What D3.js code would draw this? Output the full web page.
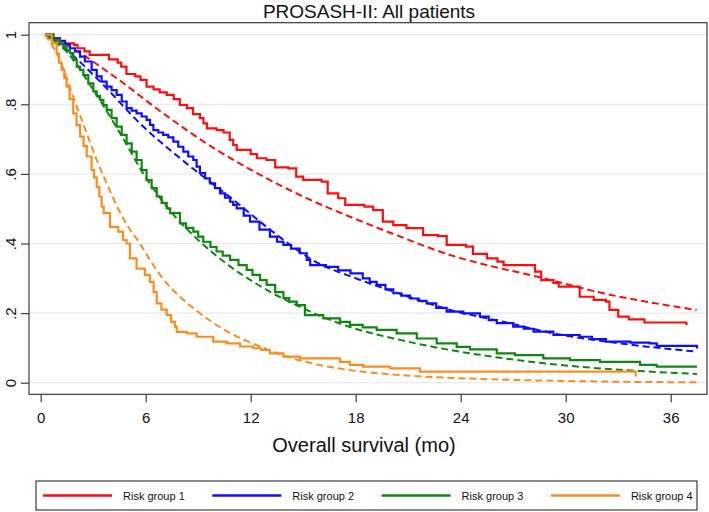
<!DOCTYPE html>
<html><head><meta charset="utf-8">
<script src="https://cdn.jsdelivr.net/npm/d3@7"></script>
<style>body{margin:0;background:#fff} svg{display:block;font-family:Arial,"Liberation Sans",sans-serif}</style>
</head><body><svg id="c" width="709" height="512"></svg>
<script>
const titleText = "PROSASH-II: All patients";
const xAxisTitle = "Overall survival (mo)";
const xTicks = [0, 6, 12, 18, 24, 30, 36];
const yTicks = [0, 0.2, 0.4, 0.6, 0.8, 1];
const yTickLabels = ["0", ".2", ".4", ".6", ".8", "1"];
const groups = ["Risk group 1", "Risk group 2", "Risk group 3", "Risk group 4"];
const colors = ["#ff0d0d", "#0d0dff", "#0f870f", "#fb8c1e"];

// Kaplan-Meier step curves: [time (mo), survival]
const km1 = [[0.25,1],[0.7,0.99],[1.1,0.975],[1.9,0.971],[2.1,0.961],[2.5,0.952],[2.8,0.942],[3.9,0.929],[4.4,0.92],[4.6,0.908],[4.9,0.887],[5.4,0.88],[5.7,0.87],[6.05,0.851],[6.45,0.843],[6.8,0.834],[7.2,0.827],[7.6,0.815],[7.95,0.798],[8.35,0.789],[8.7,0.772],[9.1,0.76],[9.3,0.745],[9.5,0.731],[10.05,0.726],[10.45,0.719],[10.8,0.698],[11.0,0.683],[11.2,0.669],[12.0,0.657],[12.35,0.645],[12.9,0.64],[13.4,0.619],[14.15,0.616],[14.6,0.592],[15.0,0.583],[16.05,0.578],[16.4,0.544],[17.0,0.53],[17.4,0.511],[18.5,0.506],[19.0,0.496],[19.55,0.463],[20.15,0.453],[20.9,0.444],[21.85,0.424],[22.7,0.421],[23.2,0.396],[24.3,0.391],[24.7,0.37],[25.5,0.357],[26.1,0.348],[26.45,0.338],[28.25,0.319],[28.6,0.295],[29.3,0.287],[29.6,0.276],[30.8,0.247],[31.6,0.238],[32.3,0.233],[32.5,0.209],[33.0,0.19],[33.6,0.182],[34.5,0.173],[36.9,0.165]];
const km2 = [[0.25,1],[0.72,0.989],[1.1,0.982],[1.39,0.973],[1.67,0.961],[1.96,0.952],[2.25,0.937],[2.53,0.923],[2.91,0.899],[3.2,0.88],[3.48,0.865],[3.77,0.851],[4.05,0.841],[4.34,0.827],[4.63,0.808],[4.91,0.789],[5.2,0.782],[5.48,0.774],[5.77,0.765],[6.05,0.755],[6.25,0.741],[6.44,0.726],[6.72,0.719],[7.0,0.712],[7.29,0.705],[7.58,0.693],[7.86,0.678],[8.15,0.664],[8.43,0.65],[8.72,0.64],[8.91,0.621],[9.1,0.602],[9.39,0.587],[9.67,0.573],[9.96,0.559],[10.25,0.544],[10.53,0.532],[10.82,0.52],[11.0,0.511],[11.2,0.501],[11.6,0.48],[11.96,0.463],[12.5,0.44],[13.1,0.42],[13.5,0.405],[13.87,0.396],[14.3,0.385],[14.8,0.372],[15.2,0.353],[15.4,0.338],[16.3,0.333],[17.0,0.323],[17.7,0.314],[18.4,0.3],[18.8,0.29],[19.2,0.281],[19.7,0.268],[20.15,0.257],[20.6,0.25],[21.1,0.242],[21.6,0.235],[22.05,0.228],[22.6,0.215],[23.2,0.204],[24.15,0.199],[25.1,0.19],[25.6,0.18],[26.06,0.171],[27.0,0.161],[27.6,0.155],[28.16,0.147],[29.3,0.137],[30.8,0.132],[31.5,0.125],[32.3,0.118],[33.7,0.115],[34.8,0.113],[35.2,0.106],[37.5,0.098]];
const km3 = [[0.25,1],[0.72,0.985],[1.1,0.973],[1.29,0.966],[1.48,0.956],[1.67,0.947],[1.86,0.928],[2.06,0.908],[2.25,0.899],[2.44,0.884],[2.72,0.86],[3.01,0.837],[3.2,0.824],[3.39,0.813],[3.58,0.798],[3.77,0.784],[4.05,0.76],[4.34,0.736],[4.63,0.712],[4.91,0.688],[5.2,0.664],[5.48,0.64],[5.77,0.611],[6.05,0.582],[6.34,0.559],[6.63,0.535],[6.91,0.517],[7.2,0.501],[7.4,0.487],[7.96,0.458],[8.3,0.445],[8.72,0.434],[9.0,0.42],[9.29,0.405],[9.7,0.39],[10.05,0.377],[10.4,0.365],[10.82,0.353],[11.3,0.338],[11.77,0.324],[12.1,0.31],[12.53,0.295],[12.91,0.281],[13.4,0.26],[13.87,0.243],[14.2,0.233],[14.63,0.223],[15.1,0.194],[16.15,0.185],[17.1,0.175],[17.67,0.166],[18.4,0.159],[19.2,0.152],[20.34,0.142],[21.49,0.127],[22.63,0.113],[23.77,0.103],[24.53,0.096],[26.06,0.084],[27.1,0.079],[28.72,0.07],[30.25,0.065],[31.96,0.06],[34.25,0.051],[35.2,0.046],[37.5,0.046]];
const km4 = [[0.25,1],[0.63,0.975],[0.91,0.946],[1.05,0.92],[1.2,0.899],[1.35,0.875],[1.48,0.851],[1.65,0.815],[1.86,0.774],[2.05,0.74],[2.25,0.707],[2.45,0.68],[2.63,0.65],[2.91,0.611],[3.05,0.59],[3.2,0.563],[3.35,0.535],[3.48,0.506],[3.6,0.487],[3.96,0.448],[4.43,0.434],[4.7,0.41],[4.91,0.4],[5.1,0.357],[5.48,0.328],[5.95,0.309],[6.24,0.29],[6.45,0.26],[6.63,0.228],[6.9,0.21],[7.2,0.194],[7.45,0.175],[7.67,0.161],[7.77,0.146],[8.34,0.142],[8.91,0.132],[9.86,0.118],[10.63,0.113],[11.39,0.104],[12.15,0.099],[12.6,0.094],[13.1,0.084],[13.87,0.075],[14.82,0.07],[17.1,0.06],[17.67,0.051],[18.43,0.046],[19.96,0.041],[21.67,0.032],[34.0,0.018]];

// Fitted (parametric) curves, dashed: [time (mo), survival]
const fit1 = [[0.25,1],[1.3,0.975],[2.25,0.947],[4.34,0.875],[7,0.774],[10.05,0.669],[12.3,0.604],[14.82,0.539],[17.67,0.477],[20.53,0.42],[23.39,0.367],[25.1,0.343],[28.34,0.305],[32.15,0.257],[37.48,0.209]];
const fit2 = [[0.25,1],[1.5,0.955],[3.2,0.875],[5.86,0.736],[8.53,0.622],[10.9,0.53],[13.1,0.44],[15.8,0.345],[18,0.3],[20.15,0.262],[23.4,0.209],[26.44,0.175],[29.3,0.142],[33.1,0.113],[37.5,0.089]];
const fit3 = [[0.25,1],[1.5,0.95],[3,0.842],[4.5,0.72],[6,0.59],[7.5,0.488],[9,0.41],[10.8,0.335],[12.3,0.285],[15.2,0.209],[17.67,0.16],[20.53,0.123],[23.39,0.094],[25.1,0.08],[29.3,0.053],[34.06,0.034],[37.5,0.025]];
const fit4 = [[0.25,1],[1.0,0.937],[2.06,0.793],[2.63,0.717],[3.2,0.64],[3.77,0.573],[4.43,0.5],[4.91,0.455],[5.67,0.4],[6.24,0.353],[7.0,0.298],[7.96,0.247],[8.91,0.207],[9.86,0.172],[10.82,0.143],[11.77,0.12],[12.53,0.104],[13.9,0.078],[15.8,0.052],[17.7,0.036],[20.5,0.022],[25,0.011],[30,0.005],[37.5,0.001]];

const kmSeries = [km1, km2, km3, km4];
const fitSeries = [fit1, fit2, fit3, fit4];

const svg = d3.select("#c");
const frame = {left: 29, right: 707, top: 22.7, bottom: 394.3};
const x = d3.scaleLinear().domain([0, 36]).range([40.7, 670.7]);
const y = d3.scaleLinear().domain([0, 1]).range([382.7, 34.7]);

svg.append("rect").attr("width", 709).attr("height", 512).attr("fill", "#fff");

// gridlines
svg.append("g").selectAll("line").data(yTicks).join("line")
  .attr("x1", frame.left).attr("x2", frame.right)
  .attr("y1", d => y(d)).attr("y2", d => y(d))
  .attr("stroke", "#e4ecef").attr("stroke-width", 1.2);

// clip
svg.append("defs").append("clipPath").attr("id", "clip").append("rect")
  .attr("x", frame.left).attr("y", frame.top)
  .attr("width", frame.right - frame.left).attr("height", frame.bottom - frame.top);

const plot = svg.append("g").attr("clip-path", "url(#clip)");
const stepLine = d3.line().x(d => x(d[0])).y(d => y(d[1])).curve(d3.curveStepAfter);
const smoothLine = d3.line().x(d => x(d[0])).y(d => y(d[1])).curve(d3.curveMonotoneX);

// draw order: group 4 first so group 1 on top? keep natural order
fitSeries.forEach((s, i) => {
  plot.append("path").attr("d", smoothLine(s)).attr("fill", "none")
    .attr("stroke", colors[i]).attr("stroke-width", 2).attr("stroke-dasharray", "7,4");
});
kmSeries.forEach((s, i) => {
  plot.append("path").attr("d", stepLine(s)).attr("fill", "none")
    .attr("stroke", colors[i]).attr("stroke-width", 2.2).attr("stroke-linejoin", "miter");
});

// frame
svg.append("rect").attr("x", frame.left).attr("y", frame.top)
  .attr("width", frame.right - frame.left).attr("height", frame.bottom - frame.top)
  .attr("fill", "none").attr("stroke", "#3c3c3c").attr("stroke-width", 1.2);

// y axis
const yAxis = d3.axisLeft(y).tickValues(yTicks).tickSize(8).tickFormat((d, i) => yTickLabels[i]);
const gy = svg.append("g").attr("transform", `translate(${frame.left},0)`).call(yAxis);
gy.select(".domain").remove();
gy.selectAll(".tick line").attr("stroke", "#3c3c3c").attr("stroke-width", 1.2);
gy.selectAll(".tick text").attr("font-size", 15).attr("fill", "#111")
  .attr("x", 0).attr("dy", 0).attr("text-anchor", "middle")
  .attr("transform", "translate(-13,0) rotate(-90)");

// x axis
const xAxis = d3.axisBottom(x).tickValues(xTicks).tickSize(8).tickFormat(d3.format("d"));
const gx = svg.append("g").attr("transform", `translate(0,${frame.bottom})`).call(xAxis);
gx.select(".domain").remove();
gx.selectAll(".tick line").attr("stroke", "#3c3c3c").attr("stroke-width", 1.2);
gx.selectAll(".tick text").attr("font-size", 15).attr("fill", "#111").attr("y", 29).attr("dy", 0);

// titles
svg.append("text").attr("x", 369).attr("y", 18).attr("text-anchor", "middle")
  .attr("font-size", 19).attr("fill", "#111").text(titleText);
svg.append("text").attr("x", 364).attr("y", 452).attr("text-anchor", "middle")
  .attr("font-size", 20).attr("fill", "#111").text(xAxisTitle);

// legend
const leg = svg.append("g");
leg.append("rect").attr("x", 36).attr("y", 481).attr("width", 661).attr("height", 29)
  .attr("fill", "#fff").attr("stroke", "#3c3c3c").attr("stroke-width", 1.2);
groups.forEach((g, i) => {
  const x0 = 43 + i * 169.3;
  leg.append("line").attr("x1", x0).attr("x2", x0 + 69).attr("y1", 495.5).attr("y2", 495.5)
    .attr("stroke", colors[i]).attr("stroke-width", 2.5);
  leg.append("text").attr("x", x0 + 80).attr("y", 499.5).attr("font-size", 11)
    .attr("fill", "#111").text(g);
});
</script>
</body></html>
